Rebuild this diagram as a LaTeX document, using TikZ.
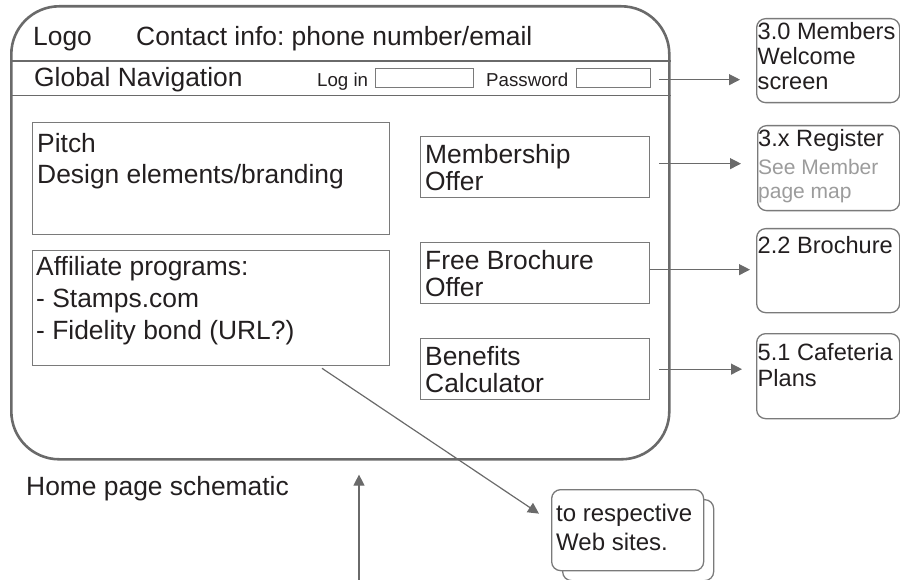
\documentclass[tikz,border=0pt]{standalone}
\usepackage{fontspec}
\setmainfont{Liberation Sans}
\usetikzlibrary{arrows.meta}
\definecolor{ln}{HTML}{6A6A6A}
\definecolor{bx}{HTML}{7A7A7A}
\definecolor{tx}{HTML}{231F20}
\definecolor{gtx}{HTML}{9C9C9C}
\frenchspacing
\begin{document}
\begin{tikzpicture}[x=1pt,y=-1pt,
  frame/.style={draw=ln, line width=2.6pt, rounded corners=48pt, inner sep=0pt, anchor=north west},
  sepline/.style={draw=ln, line width=1.4pt},
  box/.style={draw=bx, line width=1.3pt, inner sep=0pt, anchor=north west},
  rbox/.style={draw=bx, line width=1.3pt, rounded corners=9pt, inner sep=0pt, anchor=north west, fill=white},
  big/.style={font=\fontsize{26.4}{31.5}\selectfont, text=tx, inner sep=0pt, anchor=base west, align=left},
  small/.style={font=\fontsize{18.7}{22}\selectfont, text=tx, inner sep=0pt, anchor=base west},
  mid/.style={font=\fontsize{23.6}{24.6}\selectfont, text=tx, inner sep=0pt, anchor=base west, align=left},
  arr/.style={draw=ln, line width=1.2pt, -{Triangle[length=11pt,width=11pt]}}]
\useasboundingbox (0,0) rectangle (900,580);

% main page frame
\node[frame, minimum width=658pt, minimum height=453pt] (page) at (10,5) {};
\draw[sepline] ([yshift=-56pt]page.north west) -- ([yshift=-56pt]page.north east);
\draw[sepline] ([yshift=-90.5pt]page.north west) -- ([yshift=-90.5pt]page.north east);

% header texts (base west anchor = baseline of the last line)
\node[big] (logo) at (33,45.5) {Logo};
\node[big] (contact) at (136,45.5) {Contact info: phone number/email};
\node[big] (gnav) at (34,87) {Global Navigation};
\node[small] (loginlbl) at (317,86.5) {Log in};
\node[box, minimum width=98pt, minimum height=19pt] (login) at (375,68) {};
\node[small] (pwlbl) at (486,86.5) {Password};
\node[box, minimum width=74pt, minimum height=19pt] (pw) at (576,68) {};

% content boxes
\node[box, minimum width=357pt, minimum height=112pt] (pitch) at (32,122) {};
\node[big, font=\fontsize{26.4}{31}\selectfont] (pitchtxt) at (37,183.5) {Pitch\\Design elements/branding};
\node[box, minimum width=357pt, minimum height=115pt] (affil) at (32,250) {};
\node[big, font=\fontsize{26.4}{32.2}\selectfont] (affiltxt) at (36,339.9) {Affiliate programs:\\- Stamps.com\\- Fidelity bond (URL?)};

\node[box, minimum width=229pt, minimum height=61pt] (memb) at (420,136) {};
\node[big, font=\fontsize{26.4}{27.4}\selectfont] (membtxt) at (425,190.7) {Membership\\Offer};
\node[box, minimum width=229pt, minimum height=61pt] (broch) at (420,242) {};
\node[big, font=\fontsize{26.4}{26.7}\selectfont] (brochtxt) at (425,296.7) {Free Brochure\\Offer};
\node[box, minimum width=229pt, minimum height=61pt] (bene) at (420,338) {};
\node[big, font=\fontsize{26.4}{26.6}\selectfont] (benetxt) at (425,392.3) {Benefits\\Calculator};

% right-hand target pages
\node[rbox, minimum width=143pt, minimum height=84pt] (r30) at (756,18) {};
\node[mid] (r30txt) at (757.5,89.2) {3.0 Members\\Welcome\\screen};
\node[rbox, minimum width=142pt, minimum height=85pt] (r3x) at (757,125) {};
\node[mid] (r3xtxt) at (758,146.7) {3.x Register};
\node[mid, font=\fontsize{21}{23.3}\selectfont, text=gtx] (r3xsee) at (758,198.3) {See Member\\page map};
\node[rbox, minimum width=143pt, minimum height=84pt] (r22) at (756,228) {};
\node[mid] (r22txt) at (757.5,253.3) {2.2 Brochure};
\node[rbox, minimum width=143pt, minimum height=85pt] (r51) at (756,333) {};
\node[mid, font=\fontsize{23.6}{26.7}\selectfont] (r51txt) at (757.5,386.7) {5.1 Cafeteria\\Plans};

% web sites stacked card
\node[rbox, minimum width=151pt, minimum height=81pt] (webback) at (562,499) {};
\node[rbox, minimum width=152pt, minimum height=81pt] (web) at (551,489) {};
\node[mid, font=\fontsize{24}{28.3}\selectfont] (webtxt) at (556,550) {to respective\\Web sites.};

% caption
\node[big] (home) at (26,495) {Home page schematic};

% connectors
\coordinate (pwout) at ([yshift=-1.5pt]pw.east);
\coordinate (membout) at ([yshift=3.5pt]memb.east);
\coordinate (brochout) at ([yshift=3.5pt]broch.east);
\draw[arr, shorten <=8pt, shorten >=16pt] (pwout) -- (r30.west |- pwout);
\draw[arr, shorten <=9pt, shorten >=16pt] (membout) -- (r3x.west |- membout);
\draw[arr, shorten >=6pt] (brochout) -- (r22.west |- brochout);
\draw[arr, shorten <=9pt, shorten >=14pt] (bene.east) -- (r51.west |- bene.east);
\coordinate (webtip) at ([xshift=-12pt,yshift=16.5pt]web.west);
\draw[arr] ([xshift=290pt,yshift=-2pt]affil.south west) -- (webtip);
\coordinate (vin) at (359,580);
\draw[arr, shorten >=14pt] (vin) -- (vin |- page.south);
\end{tikzpicture}
\end{document}
